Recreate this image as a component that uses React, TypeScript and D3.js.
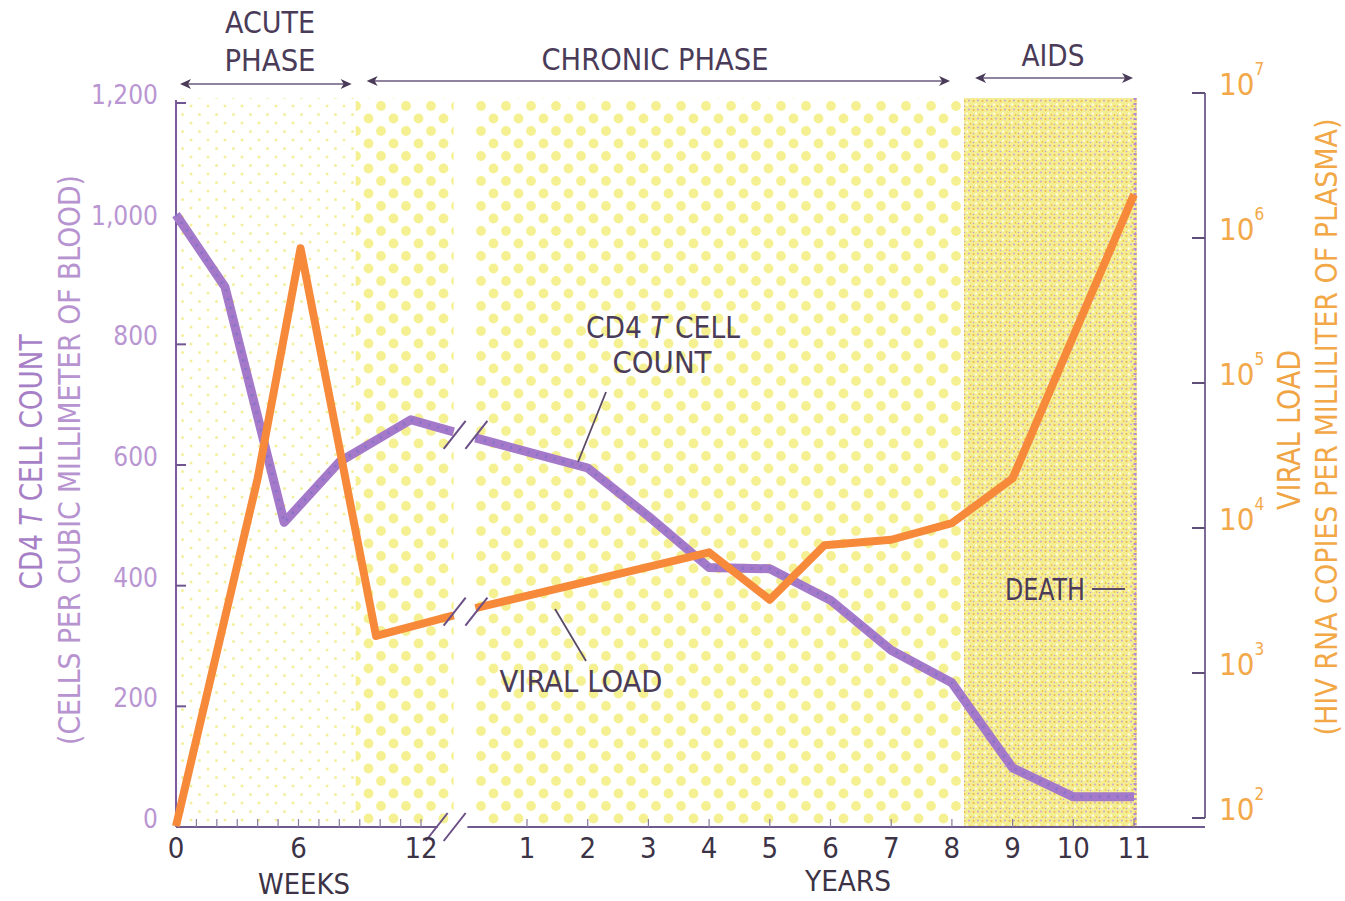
import React from 'react';
import * as d3 from 'd3';

const W = 1345;
const H = 901;

// CD4 T cell count (cells / mm3) — weeks part, then years part
const cd4Weeks = [0, 2.4, 5.3, 8, 11.5, 13.6];
const cd4WeekValues = [1015, 895, 505, 605, 675, 655];
const cd4Years = [0.15, 2, 3, 4, 5, 6, 7, 8, 9, 10, 11];
const cd4YearValues = [645, 595, 515, 430, 428, 376, 293, 239, 98, 50, 50];

// viral load (HIV RNA copies / ml plasma)
const viralWeeks = [0, 4, 6.1, 9.8, 13.6];
const viralWeekValues = [88, 2.2e4, 8.5e5, 1.8e3, 2.5e3];
const viralYears = [0.15, 4, 5, 5.9, 7, 8, 9, 10, 11];
const viralYearValues = [2.8e3, 6.8e3, 3.2e3, 7.6e3, 8.3e3, 1.08e4, 2.2e4, 2.1e5, 2e6];

const cd4Ticks = [0, 200, 400, 600, 800, 1000, 1200];
const cd4TickLabels = ['0', '200', '400', '600', '800', '1,000', '1,200'];
const viralExponents = [2, 3, 4, 5, 6, 7];
const weekLabels = [0, 6, 12];
const weekMinor = d3.range(0, 13);
const yearLabels = [1, 2, 3, 4, 5, 6, 7, 8, 9, 10, 11];

// phase boundaries
const acuteEndWeek = 8.8;
const weekBreak = 13.6;
const yearBreak = 0.15;
const aidsStartYear = 8.2;
const endYear = 11.05;

const xW = d3.scaleLinear().domain([0, 12]).range([176, 421]);
const xY = d3.scaleLinear().domain([1, 11]).range([527, 1134]);
const yL = d3.scaleLinear().domain([0, 1200]).range([827, 103]);
const yR = d3.scaleLog().domain([1e2, 1e7]).range([818, 93]);

const TOP = 98;
const BASE = 827;
const RIGHT_X = 1205;

const purple = '#a479c9';
const orange = '#f68a3a';
const dark = '#4a3b58';
const FONT = '"Liberation Sans Narrow", "DejaVu Sans Condensed", "Open Sans", sans-serif';

function path(xs: number[], ys: number[], sx: (v: number) => number, sy: (v: number) => number) {
  return d3.line<number>()
    .x((_, i) => sx(xs[i]))
    .y((d) => sy(d))(ys) as string;
}

function Slashes({ x0, x1, y }: { x0: number; x1: number; y: number }) {
  // two parallel break marks around the gap
  return (
    <g stroke="#6a4f86" strokeWidth={2}>
      <line x1={x0 - 10} y1={y + 14} x2={x0 + 12} y2={y - 14} />
      <line x1={x1 - 10} y1={y + 14} x2={x1 + 12} y2={y - 14} />
    </g>
  );
}

function Arrow({ x0, x1, y }: { x0: number; x1: number; y: number }) {
  return (
    <g>
      <line x1={x0 + 6} y1={y} x2={x1 - 6} y2={y} stroke="#6b5a7c" strokeWidth={1.6} />
      <path d={`M${x0},${y} l11,-5 l-3,5 l3,5 z`} fill="#4a3b58" />
      <path d={`M${x1},${y} l-11,-5 l3,5 l-3,5 z`} fill="#4a3b58" />
    </g>
  );
}

export default function App() {
  const xa = xW(acuteEndWeek);
  const xb0 = xW(weekBreak);
  const xb1 = xY(yearBreak);
  const xAids = xY(aidsStartYear);
  const xEnd = xY(endYear);

  const cd4W = path(cd4Weeks, cd4WeekValues, xW, yL);
  const cd4Y = path(cd4Years, cd4YearValues, xY, yL);
  const vW = path(viralWeeks, viralWeekValues, xW, yR);
  const vY = path(viralYears, viralYearValues, xY, yR);

  const cd4BreakY = (yL(cd4WeekValues[cd4WeekValues.length - 1]) + yL(cd4YearValues[0])) / 2;
  const vBreakY = (yR(viralWeekValues[viralWeekValues.length - 1]) + yR(viralYearValues[0])) / 2;

  return (
    <svg width={W} height={H} style={{ position: 'absolute', left: 0, top: 0, background: '#fff' }} fontFamily={FONT}>
      <defs>
        <pattern id="bigDots" patternUnits="userSpaceOnUse" width={25} height={25}>
          <circle cx={6} cy={6} r={4.9} fill="#f5f192" />
          <circle cx={18.5} cy={18.5} r={4.9} fill="#f5f192" />
        </pattern>
        <pattern id="smallDots" patternUnits="userSpaceOnUse" width={17} height={17}>
          <circle cx={4} cy={4} r={1.5} fill="#f3ef9e" />
          <circle cx={12.5} cy={12.5} r={1.5} fill="#f3ef9e" />
        </pattern>
        <pattern id="aids" patternUnits="userSpaceOnUse" width={9} height={9}>
          <rect width={9} height={9} fill="#f4ee92" />
          <circle cx={1.5} cy={2} r={1} fill="#f4b24a" />
          <circle cx={6} cy={1.5} r={0.9} fill="#c99cdb" />
          <circle cx={4} cy={5.5} r={1.2} fill="#fffbe0" />
          <circle cx={7.5} cy={7} r={0.9} fill="#f2c04c" />
          <circle cx={1.5} cy={7.5} r={0.8} fill="#c49ad6" />
        </pattern>
      </defs>

      {/* background phases */}
      <rect x={xW(0)} y={TOP} width={xa - xW(0)} height={BASE - TOP} fill="url(#smallDots)" />
      <rect x={xa} y={TOP} width={xb0 - xa} height={BASE - TOP} fill="url(#bigDots)" />
      <rect x={xb1} y={TOP} width={xAids - xb1 - 3} height={BASE - TOP} fill="url(#bigDots)" />
      <rect x={xAids} y={TOP} width={xEnd - xAids} height={BASE - TOP} fill="url(#aids)" />
      <line x1={xEnd - 2} y1={TOP} x2={xEnd - 2} y2={BASE} stroke="#b58ad0" strokeWidth={3} strokeDasharray="2 3" />

      {/* phase headers */}
      <g fill={dark} fontSize={31} textAnchor="middle">
        <text x={270} y={33} textLength={90} lengthAdjust="spacingAndGlyphs">ACUTE</text>
        <text x={270} y={71} textLength={91} lengthAdjust="spacingAndGlyphs">PHASE</text>
        <text x={655} y={70} textLength={227} lengthAdjust="spacingAndGlyphs">CHRONIC PHASE</text>
        <text x={1053} y={66} textLength={63} lengthAdjust="spacingAndGlyphs">AIDS</text>
      </g>
      <Arrow x0={xW(0) + 4} x1={xa - 4} y={84} />
      <Arrow x0={xa + 11} x1={xAids - 14} y={81} />
      <Arrow x0={xAids + 11} x1={xEnd - 4} y={78} />

      {/* left axis */}
      <line x1={xW(0)} y1={TOP + 2} x2={xW(0)} y2={BASE} stroke="#7c5c9c" strokeWidth={2} />
      {cd4Ticks.map((t, i) => (
        <g key={t}>
          <line x1={xW(0)} x2={xW(0) + 10} y1={yL(t)} y2={yL(t)} stroke="#6f5690" strokeWidth={2} />
          <text x={158} y={yL(t) + 1} textAnchor="end" fontSize={26} fill="#b996d2">{cd4TickLabels[i]}</text>
        </g>
      ))}
      <text transform={`translate(42,462) rotate(-90)`} textAnchor="middle" fontSize={32} fill="#a67fc6" textLength={255} lengthAdjust="spacingAndGlyphs">
        CD4 <tspan fontStyle="italic">T</tspan> CELL COUNT
      </text>
      <text transform={`translate(80,460) rotate(-90)`} textAnchor="middle" fontSize={30} fill="#b793d0" textLength={570} lengthAdjust="spacingAndGlyphs">
        (CELLS PER CUBIC MILLIMETER OF BLOOD)
      </text>

      {/* right axis */}
      <line x1={RIGHT_X} y1={yR(1e7)} x2={RIGHT_X} y2={yR(1e2)} stroke="#7c6a96" strokeWidth={2} />
      {viralExponents.map((e) => (
        <g key={e}>
          <line x1={RIGHT_X - 13} x2={RIGHT_X} y1={yR(10 ** e)} y2={yR(10 ** e)} stroke="#5f4f78" strokeWidth={2} />
          <text x={1219} y={yR(10 ** e) + 2} fontSize={31} fill="#f3a94a">
            10<tspan fontSize={17} dy={-20}>{e}</tspan>
          </text>
        </g>
      ))}
      <text transform={`translate(1300,430) rotate(-90)`} textAnchor="middle" fontSize={32} fill="#f0a444" textLength={160} lengthAdjust="spacingAndGlyphs">
        VIRAL LOAD
      </text>
      <text transform={`translate(1337,427) rotate(-90)`} textAnchor="middle" fontSize={30} fill="#f2a847" textLength={617} lengthAdjust="spacingAndGlyphs">
        (HIV RNA COPIES PER MILLILITER OF PLASMA)
      </text>

      {/* x axis */}
      <line x1={xW(0)} y1={BASE} x2={xb0 - 16} y2={BASE} stroke="#6f5a8e" strokeWidth={2} />
      <line x1={xb1 - 8} y1={BASE} x2={RIGHT_X} y2={BASE} stroke="#6f5a8e" strokeWidth={2} />
      {weekMinor.map((w) => (
        <line key={w} x1={xW(w)} x2={xW(w)} y1={BASE} y2={BASE - 8} stroke="#8a7a9a" strokeWidth={1.2} />
      ))}
      {yearLabels.map((y) => (
        <line key={y} x1={xY(y)} x2={xY(y)} y1={BASE} y2={BASE - 8} stroke="#8a7a9a" strokeWidth={1.2} />
      ))}
      <Slashes x0={xb0 - 18} x1={xb0} y={BASE} />
      <g fontSize={29} fill="#3c3346" textAnchor="middle">
        {weekLabels.map((w) => (
          <text key={w} x={xW(w)} y={858}>{w}</text>
        ))}
        {yearLabels.map((y) => (
          <text key={y} x={xY(y)} y={858}>{y}</text>
        ))}
      </g>
      <g fontSize={28} fill="#3c3346" textAnchor="middle">
        <text x={304} y={894} textLength={92} lengthAdjust="spacingAndGlyphs">WEEKS</text>
        <text x={848} y={891} textLength={86} lengthAdjust="spacingAndGlyphs">YEARS</text>
      </g>

      {/* data lines */}
      <g fill="none" strokeLinejoin="round" strokeLinecap="butt">
        <path d={cd4W} stroke={purple} strokeWidth={9} />
        <path d={cd4Y} stroke={purple} strokeWidth={9} />
        <path d={cd4W} stroke="#7b70c8" strokeWidth={3} strokeDasharray="2 7" opacity={0.7} />
        <path d={cd4Y} stroke="#7b70c8" strokeWidth={3} strokeDasharray="2 7" opacity={0.7} />
        <path d={vW} stroke={orange} strokeWidth={8} />
        <path d={vY} stroke={orange} strokeWidth={8} />
      </g>
      <Slashes x0={xb0} x1={xb1} y={cd4BreakY} />
      <Slashes x0={xb0} x1={xb1} y={vBreakY} />

      {/* annotations */}
      <g fill={dark} fontSize={30} textAnchor="middle">
        <text x={663} y={338} textLength={154} lengthAdjust="spacingAndGlyphs">
          CD4 <tspan fontStyle="italic">T</tspan> CELL
        </text>
        <text x={662} y={373} textLength={99} lengthAdjust="spacingAndGlyphs">COUNT</text>
        <text x={581} y={692} textLength={163} lengthAdjust="spacingAndGlyphs">VIRAL LOAD</text>
        <text x={1045} y={600} textLength={80} lengthAdjust="spacingAndGlyphs">DEATH</text>
      </g>
      <line x1={1092} y1={589} x2={1125} y2={589} stroke="#5a4a66" strokeWidth={2} />
      <line x1={606} y1={392} x2={578} y2={462} stroke="#5a4a66" strokeWidth={1.8} />
      <line x1={555} y1={609} x2={586} y2={661} stroke="#5a4a66" strokeWidth={1.8} />
    </svg>
  );
}
